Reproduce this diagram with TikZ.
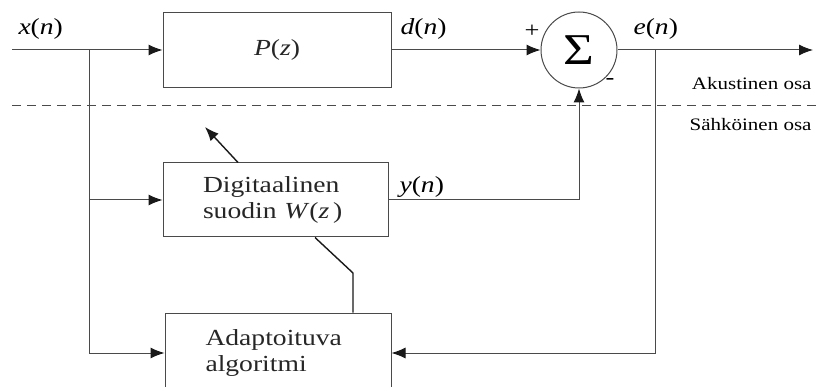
\documentclass[tikz,border=0pt]{standalone}
\usepackage{fontspec}
\setmainfont[FakeStretch=1.2]{Liberation Serif}
\usetikzlibrary{positioning, arrows.meta}
\definecolor{viiva}{HTML}{4A4A4A}

\newcommand{\sig}[2]{\textit{#1}(\textit{#2})}

\begin{document}
\begin{tikzpicture}[x=1pt, y=-1pt, >={Latex[length=14pt,width=11pt,color=black!90]}, line width=1pt,
    font=\fontsize{23}{26}\selectfont, inner sep=0pt,
    blok/.style={draw=viiva, text=black!85},
    ohje/.style={draw=black!90, line width=1.4pt}]

    \clip (0,0) rectangle (816,387);

    % 1. Lohkot: P(z), summain, W(z) ja algoritmi
    \node (P) [blok, minimum width=228pt, minimum height=75pt] at (277,50) {\sig{P}{z}};
    \node (S) [circle, draw=viiva, minimum size=76pt] at (579,50) {\fontsize{44}{44}\selectfont\symbol{"03A3}};
    \node (W) [blok, minimum width=225pt, minimum height=74pt, text width=145pt, align=left]
        at (275.5,200) {Digitaalinen\\suodin \textit{W}(\textit{z}\,)};
    \node (A) [blok, minimum width=226pt, minimum height=80pt, text width=145pt, align=left]
        at (278,353) {Adaptoituva\\algoritmi};

    % 2. Apupisteet
    \coordinate (xin) at (12,50);
    \coordinate (xb) at (89,50);
    \coordinate (eb) at (655,50);
    \coordinate (eout) at (813,50);
    \coordinate (rajaV) at (12,106);
    \coordinate (rajaO) at (816,106);
    \coordinate (wkarki) at (205,127);
    \coordinate (wtaite) at (353,273);

    % 3. Signaalit
    \draw[viiva, ->] (xin) -- (P);
    \draw[viiva] (xb) -- (xb |- A.west);
    \draw[viiva, ->] (xb |- W.west) -- (W.west);
    \draw[viiva, ->] (xb |- A.west) -- (A.west);
    \draw[viiva, ->] (P) -- (S);
    \draw[viiva, ->] (S) -- (eout);
    \draw[viiva, ->] (W.east) -| (S.south);
    \draw[viiva, ->] (eb) |- (A.east);

    % 4. Adaptointi
    \draw[ohje, ->] ([xshift=-37.5pt]W.north) -- (wkarki);
    \draw[ohje] ([xshift=39.5pt]W.south) -- (wtaite) -- (wtaite |- A.north);

    % 5. Raja akustisen ja sahkoisen osan valilla
    \draw[viiva, dashed, dash pattern=on 9pt off 6pt] (rajaV) -- (rajaO);

    % 6. Tekstit
    \node (xl) [anchor=base west] at (18,35) {\sig{x}{n}};
    \node (dl) [anchor=base west] at (400,35) {\sig{d}{n}};
    \node (el) [anchor=base west] at (633,35) {\sig{e}{n}};
    \node (yl) [anchor=base west] at (399,193) {\sig{y}{n}};
    \node (plus) at (532,31) {\fontsize{22}{22}\selectfont +};
    \node (miinus) at (610,82) {\fontsize{22}{22}\selectfont -};
    \node (ak) [anchor=base east, font=\fontsize{17.5}{20}\selectfont] at (812,90) {Akustinen osa};
    \node (sa) [anchor=base east, font=\fontsize{17.5}{20}\selectfont] at (812,131) {Sähköinen osa};
\end{tikzpicture}
\end{document}
